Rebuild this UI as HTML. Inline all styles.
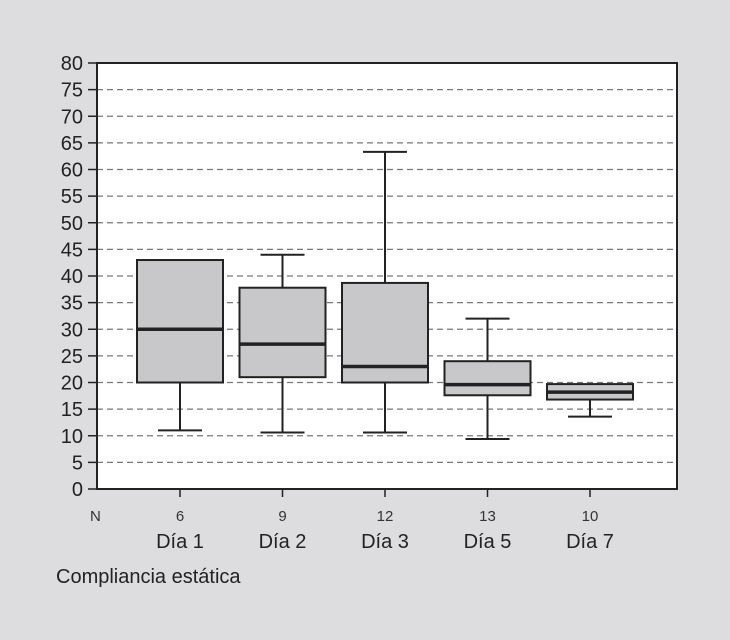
<!DOCTYPE html>
<html><head><meta charset="utf-8"><style>
body{margin:0;background:#dddddf;}
svg{display:block;font-family:"Liberation Sans",sans-serif;}
</style></head><body>
<svg id="c" width="730" height="640">
<rect x="0" y="0" width="730" height="640" fill="#dddddf"/>
<rect x="97" y="63" width="580" height="426" fill="#fff"/>
<g id="g"></g>
<text x="56" y="583" font-size="20" fill="#222">Compliancia estática</text>
<text x="90" y="521" font-size="15" fill="#333">N</text>
</svg>
<script>
const categories=["Día 1","Día 2","Día 3","Día 5","Día 7"];
const nValues=[6,9,12,13,10];
const lows=[11,10.6,10.6,9.4,13.6];
const q1s=[20,21,20,17.6,16.8];
const medians=[30,27.2,23,19.6,18.2];
const q3s=[43,37.8,38.7,24,19.7];
const highs=[43,44,63.3,32,19.7];
const yTicks=[0,5,10,15,20,25,30,35,40,45,50,55,60,65,70,75,80];
const NS="http://www.w3.org/2000/svg";
const g=document.getElementById('g');
const L=97,R=677,T=63,B=489;
const y=v=>B-(v/80)*(B-T);
const xc=i=>180+i*102.5;
function mk(t,a,p){const e=document.createElementNS(NS,t);for(const k in a)e.setAttribute(k,a[k]);(p||g).appendChild(e);return e;}
yTicks.forEach(v=>{
  if(v>0&&v<80){const l=mk('line',{x1:L,x2:R,y1:y(v),y2:y(v),stroke:'#777','stroke-width':1.2,'stroke-dasharray':'6,4'});
  
  }
  const t=mk('line',{x1:88,x2:L,y1:y(v),y2:y(v),stroke:'#222','stroke-width':1.5});
  
  
  const tx=mk('text',{x:83,y:y(v)+7,'text-anchor':'end','font-size':20,fill:'#222'});tx.textContent=v;
  
  
});
const ax=mk('path',{d:`M${L},${T}V${B}H${R}V${T}Z`,fill:'none',stroke:'#222','stroke-width':2});


categories.forEach((c,i)=>{
  const x=xc(i),w=86,cw=44;
  const gg=mk('g',{});
  
  
  mk('line',{x1:x,x2:x,y1:y(highs[i]),y2:y(q3s[i]),stroke:'#222','stroke-width':2},gg);
  mk('line',{x1:x,x2:x,y1:y(lows[i]),y2:y(q1s[i]),stroke:'#222','stroke-width':2},gg);
  if(highs[i]>q3s[i])mk('line',{x1:x-cw/2,x2:x+cw/2,y1:y(highs[i]),y2:y(highs[i]),stroke:'#222','stroke-width':2},gg);
  mk('line',{x1:x-cw/2,x2:x+cw/2,y1:y(lows[i]),y2:y(lows[i]),stroke:'#222','stroke-width':2},gg);
  mk('rect',{x:x-w/2,y:y(q3s[i]),width:w,height:y(q1s[i])-y(q3s[i]),fill:'#c8c8ca',stroke:'#222','stroke-width':2},gg);
  mk('line',{x1:x-w/2,x2:x+w/2,y1:y(medians[i]),y2:y(medians[i]),stroke:'#222','stroke-width':3.5},gg);
  const tk=mk('line',{x1:x,x2:x,y1:B,y2:B+8,stroke:'#222','stroke-width':1.5});
  
  
  const n=mk('text',{x:x,y:521,'text-anchor':'middle','font-size':15,fill:'#333'});n.textContent=nValues[i];
  
  
  const t=mk('text',{x:x,y:548,'text-anchor':'middle','font-size':20,fill:'#222'});t.textContent=c;
  
  
});
</script>
</body></html>
